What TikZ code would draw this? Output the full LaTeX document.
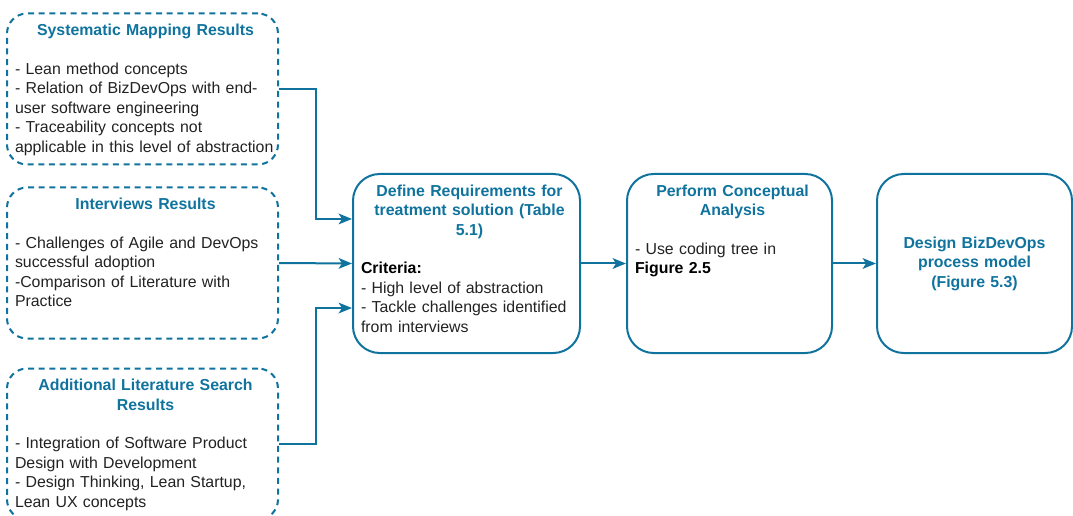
\documentclass[tikz,border=0pt]{standalone}
\usepackage{fontspec}
\setmainfont{Liberation Sans}
\usepackage{tikz}
\usetikzlibrary{positioning,arrows.meta}
\definecolor{dbblue}{HTML}{10739E}
\definecolor{dbtext}{HTML}{222222}
\newcommand{\boxhead}[1]{{\centering\bfseries\color{dbblue}#1\par}\vspace{\baselineskip}}

\begin{document}
\begin{tikzpicture}[x=0.75pt,y=-0.75pt,->,>={Stealth[length=10pt,width=8pt,inset=2.5pt]},on grid,
    srcbox/.style={draw=dbblue,line width=1.5pt,dash pattern=on 4.5pt off 3.5pt,rounded corners=15pt,
      minimum width=203.25pt,minimum height=113.25pt},
    procbox/.style={draw=dbblue,line width=1.5pt,rounded corners=20pt,minimum height=134.25pt},
    boxtext/.style={anchor=north,inner sep=0pt,align=left,text=dbtext,font=\fontsize{11.9}{14.6}\selectfont},
    flow/.style={draw=dbblue,line width=1.5pt}]
  \useasboundingbox (0,0) rectangle (1073,516);
  % sources
  \node[srcbox] (interviews) at (142.5,263) {};
  \node[srcbox] (mapping) [above=130.5pt of interviews] {};
  \node[srcbox] (litsearch) [below=135.75pt of interviews] {};
  \node[boxtext,text width=195.75pt] (mapping-txt) at ([xshift=2.25pt,yshift=-8.5pt]mapping.north)
    {\boxhead{Systematic Mapping Results}- Lean method concepts\\- Relation of BizDevOps with end-\\user software engineering\\- Traceability concepts not\\applicable in this level of abstraction};
  \node[boxtext,text width=195.75pt] (interviews-txt) at ([xshift=2.25pt,yshift=-8.5pt]interviews.north)
    {\boxhead{Interviews Results}- Challenges of Agile and DevOps\\successful adoption\\-Comparison of Literature with\\Practice};
  \node[boxtext,text width=195.75pt] (litsearch-txt) at ([xshift=2.25pt,yshift=-8.5pt]litsearch.north)
    {\boxhead{Additional Literature Search\\Results}- Integration of Software Product\\Design with Development\\- Design Thinking, Lean Startup,\\Lean UX concepts};
  % process steps
  \node[procbox,minimum width=170.25pt] (require) at (466.5,263.5) {};
  \node[procbox,minimum width=153.75pt] (analysis) [right=197.25pt of require] {};
  \node[procbox,minimum width=146.25pt,text width=138pt,align=center,text=dbblue,
    font=\fontsize{11.9}{14.6}\selectfont\bfseries] (design) [right=183.75pt of analysis]
    {Design BizDevOps\\process model\\(Figure 5.3)};
  \node[boxtext,text width=162.75pt] (require-txt) at ([xshift=2.25pt,yshift=-8.5pt]require.north)
    {\boxhead{Define Requirements for\\treatment solution (Table\\5.1)}\textbf{\color{black}Criteria:}\\- High level of abstraction\\- Tackle challenges identified\\from interviews};
  \node[boxtext,text width=146.25pt] (analysis-txt) at ([xshift=2.25pt,yshift=-8.5pt]analysis.north)
    {\boxhead{Perform Conceptual\\Analysis}- Use coding tree in\\\textbf{\color{black}Figure 2.5}};
  % connectors
  \draw[flow] (mapping.east) -- ++(37,0) |- ([yshift=33.4pt]require.west);
  \draw[flow] (interviews.east) -- (require.west);
  \draw[flow] (litsearch.east) -- ++(37,0) |- ([yshift=-33.4pt]require.west);
  \draw[flow] (require.east) -- (analysis.west);
  \draw[flow] (analysis.east) -- (design.west);
\end{tikzpicture}
\end{document}
